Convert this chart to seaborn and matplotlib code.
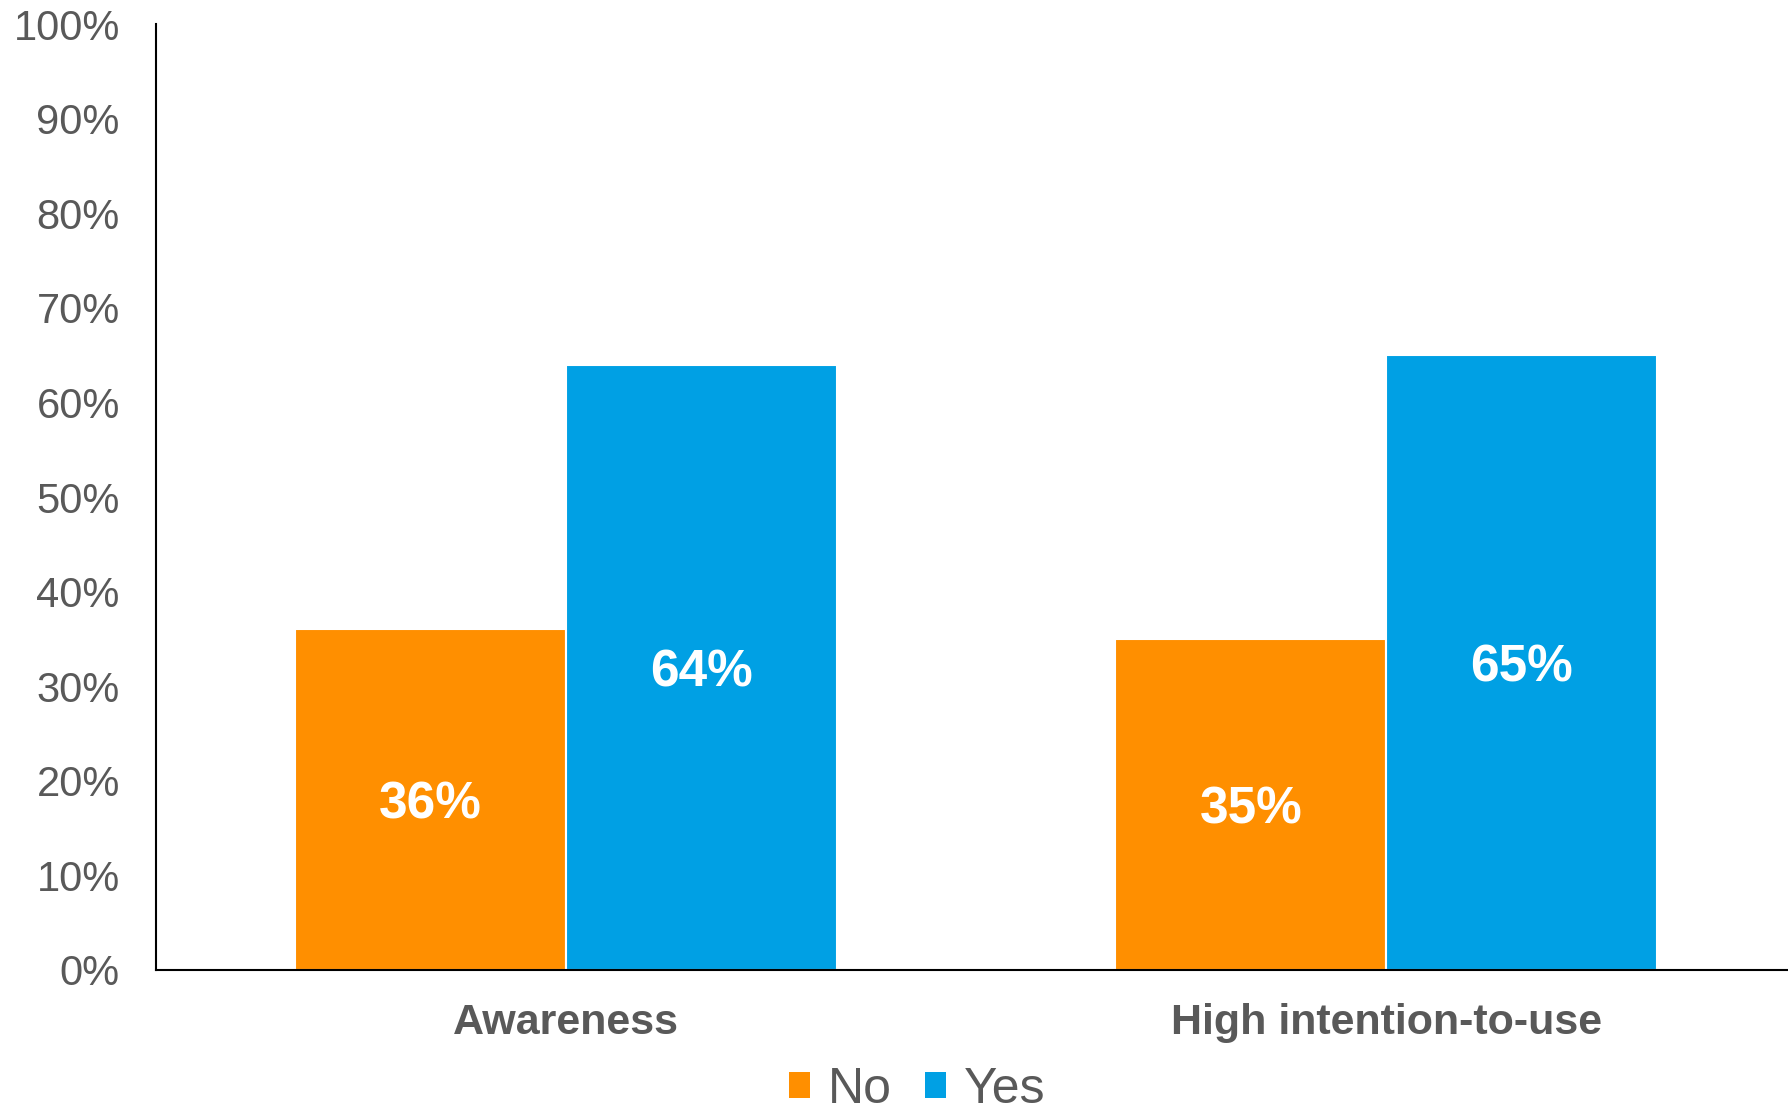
import matplotlib
matplotlib.use("Agg")
import matplotlib.pyplot as plt
import seaborn as sns
import pandas as pd
from matplotlib.patches import Patch

categories = ["Awareness", "High intention-to-use"]
series = ["No", "Yes"]
no_values = [36, 35]
yes_values = [64, 65]
colors = ["#FF8F00", "#00A0E4"]

sns.set_style("white")
plt.rcParams['font.family'] = ['Liberation Sans', 'DejaVu Sans']

df = pd.DataFrame({
    "category": categories * 2,
    "series": [series[0]] * 2 + [series[1]] * 2,
    "value": no_values + yes_values,
})

fig = plt.figure(figsize=(17.88, 11.18), dpi=100)
ax = fig.add_axes([0.0872, 0.1324, 0.9128, 0.8461])

sns.barplot(data=df, x="category", y="value", hue="series", palette=colors,
            saturation=1, width=0.66, edgecolor="white", linewidth=1.5,
            ax=ax, legend=False)

ax.set_ylim(0, 100)
ax.set_xlim(-0.5, 1.49)
ax.set_yticks(range(0, 101, 10))
ax.set_yticklabels([f"{v}%" for v in range(0, 101, 10)])
ax.tick_params(axis="y", labelsize=30, labelcolor="#595959", length=0, pad=26)
ax.tick_params(axis="x", labelsize=31, labelcolor="#595959", length=0, pad=24)
for lbl in ax.get_xticklabels():
    lbl.set_fontweight("bold")
ax.set_xlabel("")
ax.set_ylabel("")

for s in ["top", "right"]:
    ax.spines[s].set_visible(False)
for s in ["left", "bottom"]:
    ax.spines[s].set_color("black")
    ax.spines[s].set_linewidth(1.5)

for cont in ax.containers:
    for bar in cont:
        h = bar.get_height()
        ax.text(bar.get_x() + bar.get_width() / 2, h / 2 - 0.6, f"{h:.0f}%",
                ha="center", va="center", color="white", fontsize=37,
                fontweight="bold")

handles = [Patch(facecolor=c, edgecolor="none") for c in colors]
fig.legend(handles, series, loc="center", bbox_to_anchor=(0.513, 0.025),
           ncol=2, frameon=False, fontsize=36, labelcolor="#595959",
           handlelength=0.42, handleheight=0.42, handletextpad=0.34,
           columnspacing=0.68, borderpad=0.0)

fig.savefig("out.png", dpi=100)
